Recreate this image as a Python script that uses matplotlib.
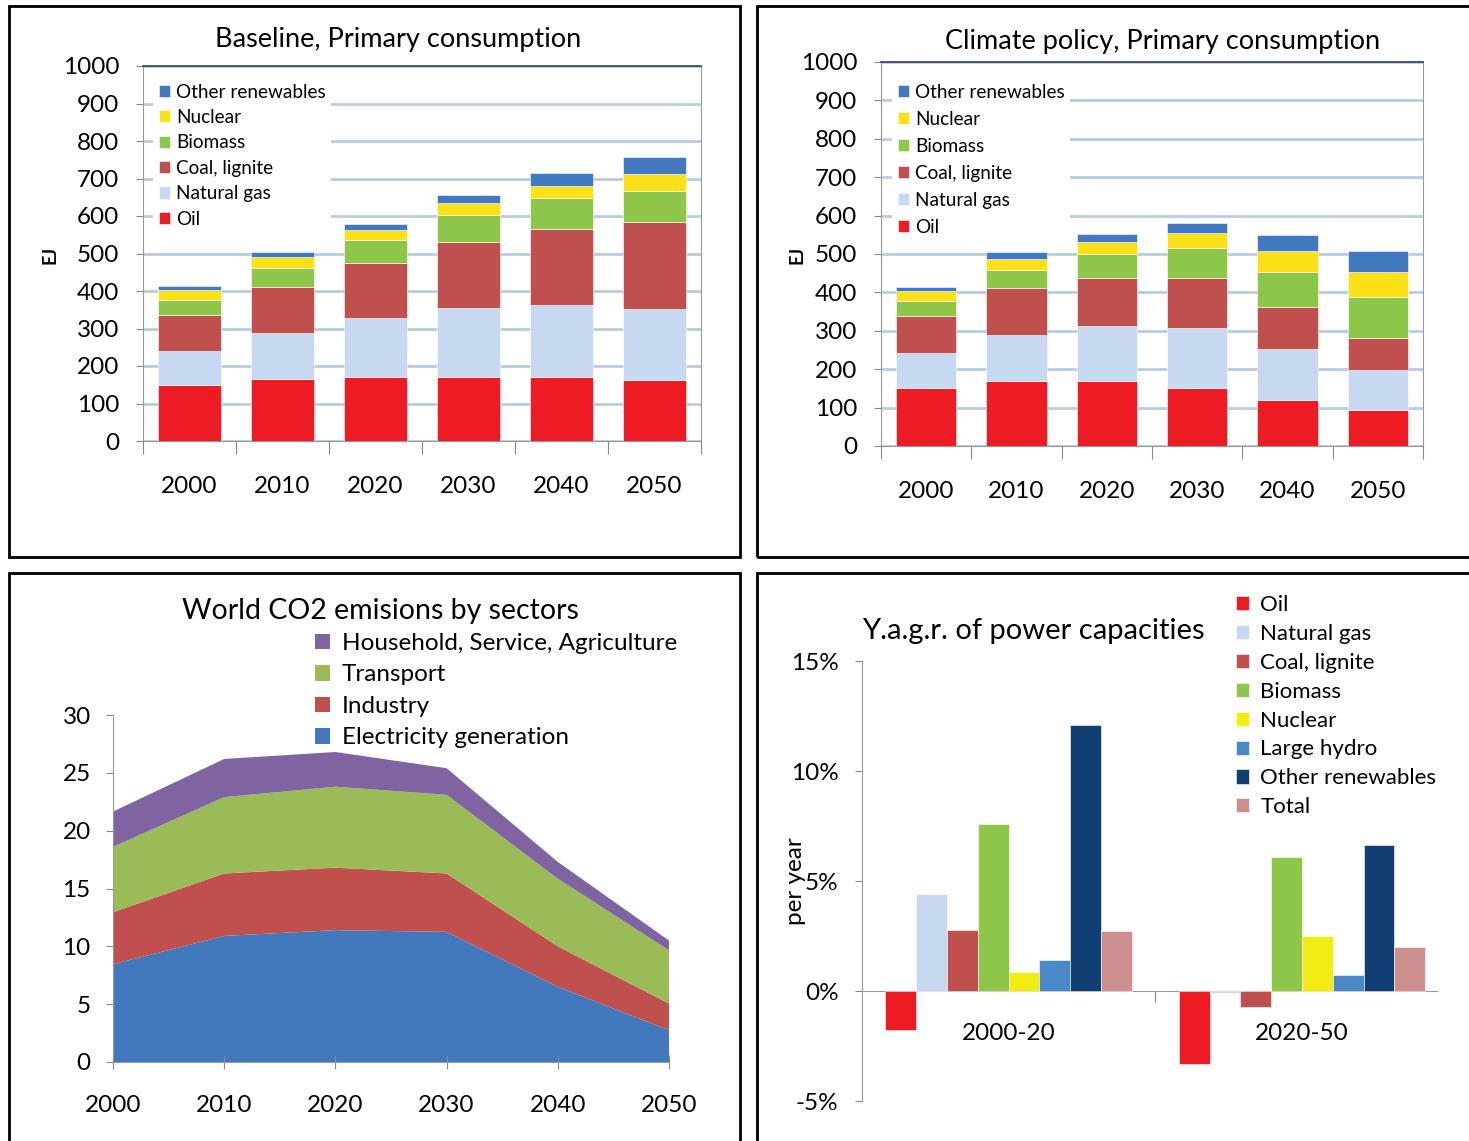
import numpy as np
import matplotlib
matplotlib.use('Agg')
import matplotlib.pyplot as plt
from matplotlib.patches import Rectangle

plt.rcParams['font.family'] = ['Lato', 'DejaVu Sans']

# Dados - consumo primário (EJ)
years = ['2000', '2010', '2020', '2030', '2040', '2050']
base_oil = [150, 166, 172, 172, 170, 163]
base_gas = [91, 122, 157, 184, 192, 190]
base_coal = [94, 123, 146, 176, 204, 230]
base_bio = [41, 50, 61, 71, 81, 84]
base_nuc = [27, 30, 27, 31, 34, 44]
base_other = [10, 14, 17, 21, 35, 46]

clim_oil = [150, 168, 168, 150, 121, 95]
clim_gas = [91, 120, 145, 158, 132, 102]
clim_coal = [97, 123, 124, 129, 109, 85]
clim_bio = [40, 47, 64, 78, 90, 107]
clim_nuc = [26, 30, 31, 40, 57, 63]
clim_other = [11, 17, 20, 27, 40, 57]

# Emissões de CO2 por setor
co2_years = [2000, 2010, 2020, 2030, 2040, 2050]
co2_elec = [8.45, 10.9, 11.4, 11.25, 6.5, 2.75]
co2_industry = [4.5, 5.4, 5.4, 5.05, 3.5, 2.3]
co2_transport = [5.65, 6.6, 7.0, 6.8, 5.85, 4.6]
co2_household = [3.05, 3.3, 3.0, 2.3, 1.45, 0.85]

# Taxa de crescimento anual (%)
periods = ['2000-20', '2020-50']
gr_oil = [-1.77, -3.32]
gr_gas = [4.41, -0.08]
gr_coal = [2.79, -0.73]
gr_bio = [7.58, 6.08]
gr_nuc = [0.88, 2.5]
gr_hydro = [1.41, 0.71]
gr_other = [12.08, 6.65]
gr_total = [2.73, 1.98]

fuel_labels = ['Oil', 'Natural gas', 'Coal, lignite', 'Biomass', 'Nuclear', 'Other renewables']
fuel_colors = ['#ED1C24', '#C6D9F0', '#C0504D', '#8DC648', '#FAE016', '#4279BE']

TICK = 17.5
W, H = 1469, 1141
fig = plt.figure(figsize=(W / 100, H / 100), dpi=100)


def fx(px):
    return px / W


def fy(py):
    return 1 - py / H


def ax_box(x0, y0, x1, y1):
    return [fx(x0), fy(y1), fx(x1) - fx(x0), fy(y0) - fy(y1)]


# bordas dos painéis
for (x0, y0, x1, y1) in [(9, 6, 740, 557), (757, 6, 1480, 557),
                         (9, 573, 740, 1160), (757, 573, 1480, 1160)]:
    fig.patches.append(Rectangle((fx(x0), fy(y1)), fx(x1) - fx(x0), fy(y0) - fy(y1),
                                 transform=fig.transFigure, fill=False,
                                 edgecolor='black', linewidth=2))


def stacked_panel(box, series, title, title_xy, ylab_xy, leg_anchor, leg_space):
    ax = fig.add_axes(ax_box(*box))
    x = np.arange(len(years))
    bottom = np.zeros(len(years))
    handles = []
    for vals, col, lab in zip(series, fuel_colors, fuel_labels):
        b = ax.bar(x, vals, 0.67, bottom=bottom, color=col, label=lab,
                   edgecolor='white', linewidth=0.4, zorder=3)
        handles.append(b)
        bottom += np.array(vals)
    ax.set_xlim(-0.5, len(years) - 0.5)
    ax.set_ylim(0, 1000)
    ax.set_yticks(range(0, 1001, 100))
    ax.tick_params(axis='y', labelsize=TICK, length=5, pad=12, color='#888888')
    ax.yaxis.grid(True, color='#B8CCE4', linewidth=2, zorder=0)
    ax.set_xticks(np.arange(-0.5, len(years), 1))
    ax.set_xticklabels([])
    ax.tick_params(axis='x', which='major', length=9, color='#888888')
    ax.set_xticks(x, minor=True)
    ax.set_xticklabels(years, minor=True)
    ax.tick_params(axis='x', which='minor', length=0, labelsize=TICK, pad=25)
    for s in ['left', 'bottom', 'right']:
        ax.spines[s].set_color('#999999')
    ax.spines['top'].set_color('#3A4A6A')
    ax.spines['top'].set_linewidth(1.3)
    leg = ax.legend(handles[::-1], fuel_labels[::-1], loc='upper left',
                    bbox_to_anchor=leg_anchor, bbox_transform=fig.transFigure,
                    fontsize=13.7, frameon=True,
                    framealpha=1, edgecolor='none', fancybox=False,
                    handlelength=0.6, handleheight=0.6, handletextpad=0.3,
                    labelspacing=leg_space, borderpad=0.3, borderaxespad=0)
    leg.set_zorder(5)
    fig.text(fx(title_xy[0]), fy(title_xy[1]), title, fontsize=19.5,
             ha='center', va='center')
    fig.text(fx(ylab_xy[0]), fy(ylab_xy[1]), 'EJ', fontsize=13, fontweight='bold',
             rotation=90, ha='center', va='center')
    return ax


stacked_panel((143, 66, 701, 441),
              [base_oil, base_gas, base_coal, base_bio, base_nuc, base_other],
              'Baseline, Primary consumption', (398, 40), (50, 255),
              (fx(153), fy(78)), 0.44)
stacked_panel((881, 62, 1423, 446),
              [clim_oil, clim_gas, clim_coal, clim_bio, clim_nuc, clim_other],
              'Climate policy, Primary consumption', (1163, 41), (797, 255),
              (fx(892), fy(78)), 0.53)

# Emissões de CO2 - área empilhada
ax3 = fig.add_axes(ax_box(113, 715, 669, 1062))
sec_labels = ['Electricity generation', 'Industry', 'Transport', 'Household, Service, Agriculture']
sec_colors = ['#4279BD', '#C0504D', '#9BBB59', '#8064A2']
polys = ax3.stackplot(co2_years, co2_elec, co2_industry, co2_transport, co2_household,
                      colors=sec_colors, labels=sec_labels, edgecolor='none')
ax3.set_xlim(2000, 2050)
ax3.set_ylim(0, 30)
ax3.set_xticks(co2_years)
ax3.set_yticks(range(0, 31, 5))
ax3.tick_params(axis='x', labelsize=TICK, direction='inout', length=10, pad=19, color='#888888')
ax3.tick_params(axis='y', labelsize=TICK, length=5, pad=11, color='#888888')
for s in ['top', 'right']:
    ax3.spines[s].set_visible(False)
for s in ['left', 'bottom']:
    ax3.spines[s].set_color('#999999')
leg3 = ax3.legend(polys[::-1], sec_labels[::-1], loc='upper left',
                  bbox_to_anchor=(fx(315), fy(633)), bbox_transform=fig.transFigure,
                  fontsize=17.5, frameon=False, handlelength=0.6, handleheight=0.6,
                  handletextpad=0.5, labelspacing=0.43, borderpad=0, borderaxespad=0)
fig.text(fx(380), fy(611), 'World CO2 emisions by sectors', fontsize=20.5,
         ha='center', va='center')

# Taxa de crescimento das capacidades
ax4 = fig.add_axes(ax_box(862, 661, 1437, 1101))
gr_series = [gr_oil, gr_gas, gr_coal, gr_bio, gr_nuc, gr_hydro, gr_other, gr_total]
gr_labels = ['Oil', 'Natural gas', 'Coal, lignite', 'Biomass', 'Nuclear',
             'Large hydro', 'Other renewables', 'Total']
gr_colors = ['#ED1C24', '#C6D9F0', '#C0504D', '#8DC648', '#F3EB14',
             '#4A89C8', '#123F73', '#CD8E8E']
bw = 0.105
xp = np.arange(len(periods))
bars = []
for i, (vals, col, lab) in enumerate(zip(gr_series, gr_colors, gr_labels)):
    b = ax4.bar(xp + (i - 3.5) * bw, vals, bw, color=col, label=lab,
                edgecolor='white', linewidth=0.4, zorder=3)
    bars.append(b)
ax4.set_xlim(-0.5, 1.46)
ax4.set_ylim(-5, 15)
ax4.set_yticks(range(-5, 16, 5))
ax4.set_yticklabels([f'{v}%' for v in range(-5, 16, 5)])
ax4.tick_params(axis='y', labelsize=TICK, length=5, pad=12, color='#888888')
ax4.spines['bottom'].set_position(('data', 0))
for s in ['top', 'right']:
    ax4.spines[s].set_visible(False)
for s in ['left', 'bottom']:
    ax4.spines[s].set_color('#999999')
ax4.set_xticks([0.5])
ax4.set_xticklabels([''])
ax4.tick_params(axis='x', which='major', length=8, color='#888888')
ax4.set_xticks(xp, minor=True)
ax4.set_xticklabels(periods, minor=True)
ax4.tick_params(axis='x', which='minor', length=0, labelsize=TICK, pad=23)
leg4 = ax4.legend(bars, gr_labels, loc='upper left',
                  bbox_to_anchor=(fx(1236), fy(595)), bbox_transform=fig.transFigure,
                  fontsize=16, frameon=False, handlelength=0.6, handleheight=0.6,
                  handletextpad=0.5, labelspacing=0.4, borderpad=0, borderaxespad=0)
fig.text(fx(1033), fy(631), 'Y.a.g.r. of power capacities', fontsize=21,
         ha='center', va='center')
fig.text(fx(795), fy(881), 'per year', fontsize=17.5, rotation=90,
         ha='center', va='center')

fig.savefig('out.png', dpi=100)
